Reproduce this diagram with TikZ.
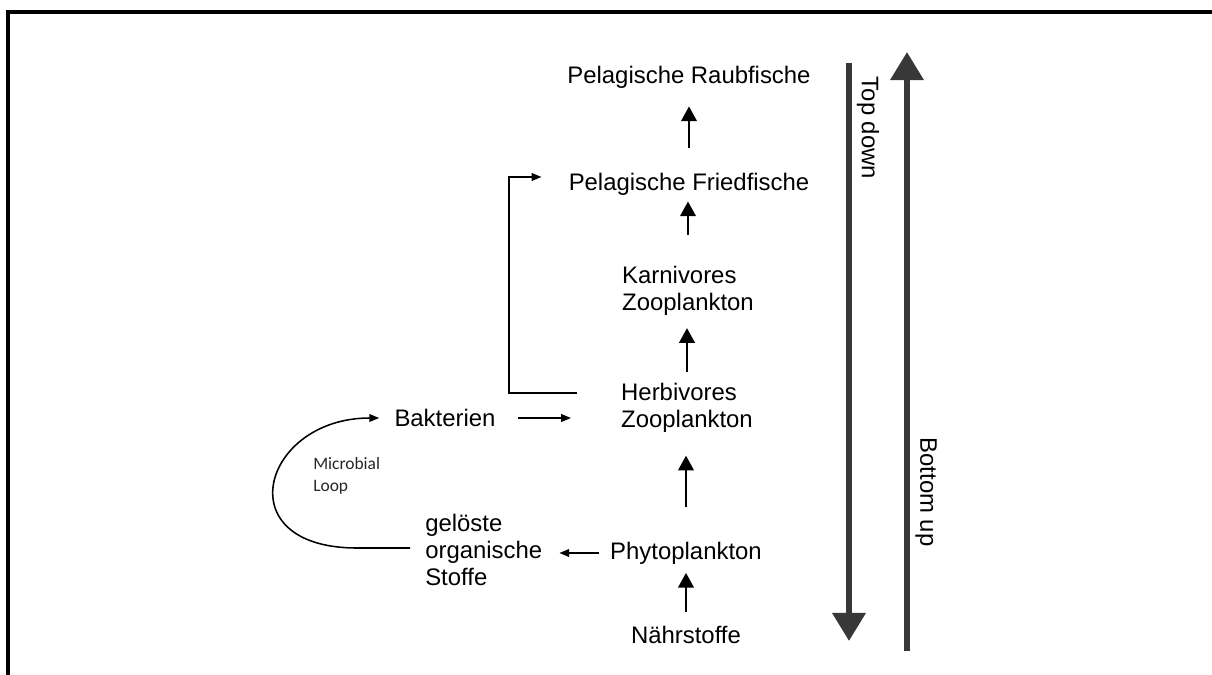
\documentclass[tikz,border=0pt]{standalone}
\usepackage{fontspec}
\setmainfont{Liberation Sans}
\newfontfamily\loopfont{Carlito}
\usetikzlibrary{arrows.meta,calc}

\newcommand\lblsize{\fontsize{17}{19.5}\selectfont}

\begin{document}
\begin{tikzpicture}[x=0.025cm,y=-0.025cm,
	lbl/.style={inner sep=0pt, font=\lblsize, align=left},
	uparr/.style={line width=1.8pt, -{Triangle[length=10.5pt,width=11pt]}},
	sidearr/.style={line width=1.1pt, -{Triangle[length=7pt,width=5.5pt]}},
	bigarr/.style={line width=4.2pt, draw=black!78, -{Triangle[length=20pt,width=23pt]}}]
\useasboundingbox (0,0) rectangle (1212,675);
\draw[line width=2.2pt] (8,675) -- (8,12) -- (1212,12);

% food chain
\node[lbl] (raub) at (689,77) {Pelagische Raubfische};
\node[lbl] (fried) at (689,184) {Pelagische Friedfische};
\node[lbl] (karn) at (688,291) {Karnivores\\Zooplankton};
\node[lbl] (herb) at (687,408) {Herbivores\\Zooplankton};
\node[lbl] (bakt) at (445,418) {Bakterien};
\node[lbl] (phyto) at (686,553) {Phytoplankton};
\node[lbl] (naehr) at (686,635) {Nährstoffe};
\node[lbl, anchor=west] (geloest) at (425,550) {gelöste\\organische\\Stoffe};
\node[inner sep=0pt, font=\loopfont\fontsize{12.4}{15.5}\selectfont, align=left,
	anchor=west, text=black!85] (loop) at (313,476) {Microbial\\Loop};

\foreach \u/\v/\a/\b in {
	fried/raub/17.8pt/12.8pt, karn/fried/22pt/4.3pt, herb/karn/7.8pt/8.5pt,%
	phyto/herb/24.5pt/16pt, naehr/phyto/10.2pt/6pt%
}{
	\draw[uparr, shorten <=\a, shorten >=\b] (\u.north) -- (\u.north |- \v.south);
}

\draw[sidearr, shorten <=15.6pt, shorten >=35.5pt] (bakt.east) -- (bakt.east -| herb.west);
\draw[sidearr, shorten <=7.8pt, shorten >=12pt] (phyto.west) -- (phyto.west -| geloest.east);
\draw[sidearr] ([shift={(-44,10)}]herb.north west) -- ++(-68,0) |- ([shift={(-27,-7)}]fried.west);
\draw[sidearr, shorten >=10.7pt] ([shift={(-15,-2)}]geloest.west) -- ++(-53,0)
	to[out=180,in=180,looseness=2.5] (bakt.west);

% top down / bottom up
\coordinate (td1) at (849,63);
\coordinate (td2) at (849,641);
\coordinate (bu1) at (907,651);
\coordinate (bu2) at (907,52);
\draw[bigarr] (td1) -- (td2);
\draw[bigarr] (bu1) -- (bu2);
\node[lbl, rotate=-90] (tdlbl) at (868,128) {Top down};
\node[lbl, rotate=-90] (bulbl) at (926,492) {Bottom up};
\end{tikzpicture}
\end{document}
